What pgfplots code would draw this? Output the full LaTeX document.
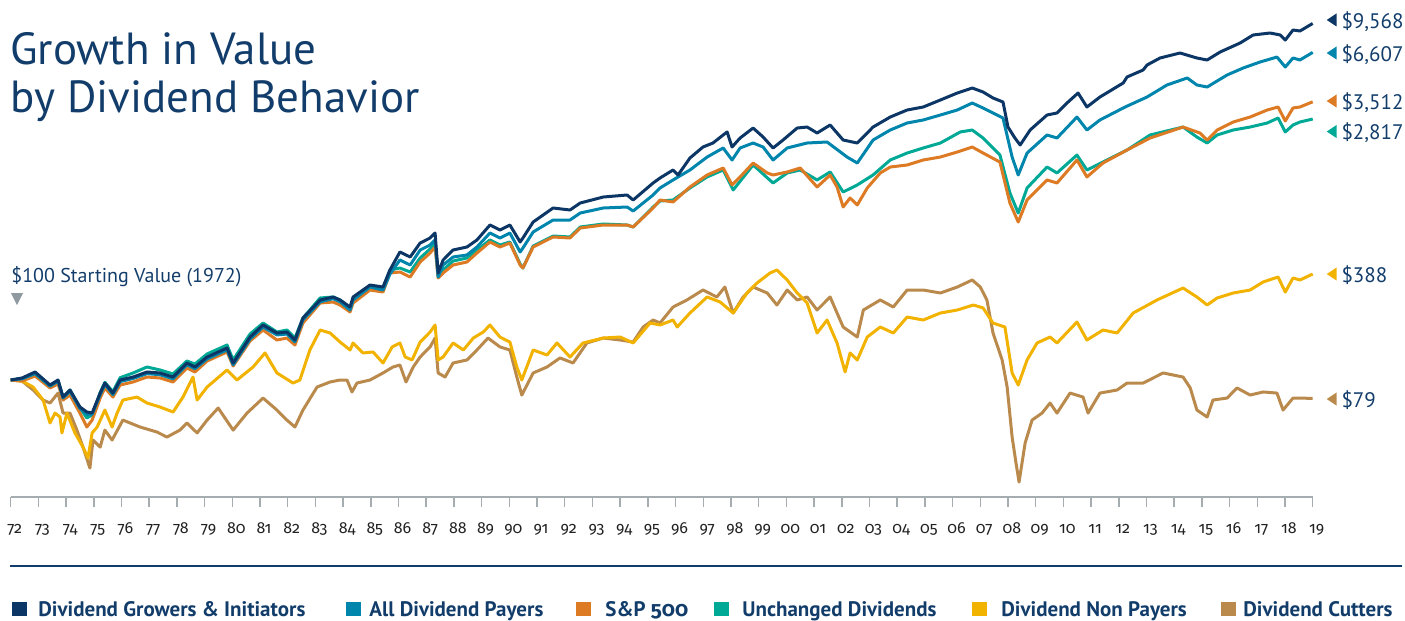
\documentclass[border=0pt]{standalone}
\usepackage{fontspec}
\setmainfont{PT Sans}
\newfontfamily\tickfont{Fira Sans}[Numbers=OldStyle]
\usepackage{pgfplots}
\usepackage{pgfplotstable}
\pgfplotsset{compat=1.18}
\definecolor{navyline}{HTML}{0C3665}
\definecolor{blueline}{HTML}{0085AD}
\definecolor{orangeline}{HTML}{DD7A24}
\definecolor{tealline}{HTML}{00A896}
\definecolor{yellowline}{HTML}{F2B200}
\definecolor{brownline}{HTML}{BA8A4D}
\definecolor{textnavy}{HTML}{123D6B}
\definecolor{axisgray}{HTML}{A5ADB1}
\definecolor{ticktext}{HTML}{222222}
\definecolor{markgray}{HTML}{8E9A9F}

\pgfplotstableread{
x y
1972.00 100
1972.41 102.6
1972.88 110.8
1973.42 93.8
1973.71 100
1973.89 80.4
1974.14 88.0
1974.50 70.8
1974.75 66.4
1974.94 65.6
1975.23 84.6
1975.40 96.2
1975.69 84.6
1975.95 100
1976.42 103.9
1976.92 110.8
1977.39 109.4
1977.86 103.9
1978.36 124.3
1978.65 118.1
1979.09 134.2
1979.81 150.6
1980.03 124.3
1980.64 173.3
1981.11 202.1
1981.61 182.4
1981.97 184.8
1982.26 166.8
1982.55 221.0
1983.17 278.3
1983.64 289.2
1983.89 278.3
1984.25 254.3
1984.36 289.2
1984.97 337.1
1985.44 328.6
1985.69 408.4
1986.05 514.2
1986.42 482.3
1986.78 576.8
1987.14 615.0
1987.32 655.7
1987.43 393.0
1987.61 464.2
1987.97 527.5
1988.47 548.1
1988.83 599.5
1989.30 726.3
1989.66 681.3
1990.02 726.3
1990.39 584.3
1990.49 615.0
1990.86 754.7
1991.58 902.7
1992.19 879.9
1992.56 962.3
1993.39 1039
1994.25 1066
1994.47 1000
1995.19 1243
1995.44 1325
1995.91 1468
1996.09 1377
1996.52 1711
1996.99 1970
1997.35 2073
1997.86 2388
1998.04 1970
1998.33 2210
1998.80 2511
1999.16 2238
1999.52 1945
1999.88 2154
2000.39 2511
2000.75 2543
2001.11 2356
2001.58 2610
2002.05 2154
2002.56 2073
2003.13 2543
2003.75 2890
2004.36 3162
2004.94 3286
2005.56 3594
2006.17 3930
2006.71 4190
2007.10 3981
2007.46 3687
2007.82 3503
2008.00 2543
2008.25 2210
2008.44 2021
2008.80 2448
2009.41 2966
2009.77 3043
2010.13 3458
2010.53 3930
2010.85 3286
2011.32 3734
2012.16 4467
2012.30 4826
2012.88 5275
2013.02 5623
2013.49 6150
2014.21 6557
2014.82 6150
2015.19 5995
2015.66 6643
2016.38 7452
2016.85 8254
2017.46 8468
2017.83 8254
2018.01 7743
2018.29 8799
2018.54 8686
2019.00 9568
}\growers

\pgfplotstableread{
x y
1972.00 100
1972.41 101.5
1972.88 108.5
1973.42 92.5
1973.71 98.5
1973.89 79.5
1974.14 86.5
1974.50 69.5
1974.75 64.5
1974.94 64.5
1975.23 83
1975.40 94.5
1975.69 83
1975.95 98
1976.42 102
1976.92 108.5
1977.39 107
1977.86 101.5
1978.36 121.5
1978.65 115.5
1979.09 131
1979.81 147
1980.03 121.5
1980.64 169
1981.11 197
1981.61 178
1981.97 180
1982.26 163
1982.55 216
1983.17 272
1983.64 283
1983.89 272
1984.25 244.8
1984.36 278.3
1984.97 328.6
1985.44 316.2
1985.69 388.0
1986.05 464.2
1986.42 435.4
1986.78 527.5
1987.14 562.3
1987.32 599.5
1987.43 373.4
1987.61 435.4
1987.97 482.3
1988.47 494.8
1988.83 548.1
1989.30 655.7
1989.66 615.0
1990.02 655.7
1990.39 514.2
1990.49 541.1
1990.86 664.1
1991.58 774.3
1992.19 774.3
1992.56 846.8
1993.39 902.7
1994.25 914.3
1994.47 868.6
1995.19 1066
1995.44 1166
1995.91 1292
1996.52 1468
1997.14 1733
1997.72 1945
1998.04 1668
1998.33 1945
1998.80 2073
1999.16 1970
1999.52 1668
2000.03 1945
2000.75 2073
2001.47 2100
2002.19 1733
2002.56 1605
2003.13 2154
2003.75 2448
2004.36 2678
2004.94 2783
2005.56 2966
2006.17 3162
2006.71 3458
2007.10 3244
2007.82 2855
2008.15 1733
2008.37 1377
2008.69 1824
2009.41 2297
2009.77 2210
2010.49 2890
2010.85 2448
2011.32 2783
2012.23 3286
2013.02 3734
2013.74 4354
2014.47 4763
2014.82 4354
2015.19 4243
2015.91 4948
2016.49 5411
2017.10 5843
2017.71 6225
2018.01 5481
2018.29 6150
2018.54 5995
2019.00 6607
}\payers

\pgfplotstableread{
x y
1972.00 100
1972.41 98.7
1972.88 105.2
1973.42 90.3
1973.71 95.0
1973.89 77.4
1974.14 82.5
1974.50 65.5
1974.75 54.8
1974.94 59.9
1975.23 79.4
1975.40 90.3
1975.69 80.4
1975.95 93.8
1976.42 97.5
1976.92 103.9
1977.39 102.6
1977.86 97.5
1978.36 116.6
1978.65 110.8
1979.09 127.5
1979.81 143.1
1980.03 119.6
1980.64 164.7
1981.11 189.6
1981.61 166.8
1981.97 171.1
1982.26 156.5
1982.55 207.3
1983.17 267.8
1983.64 271.2
1983.89 261.0
1984.25 238.8
1984.36 267.8
1984.97 316.2
1985.44 308.2
1985.69 393.0
1986.05 398.1
1986.42 373.4
1986.78 452.4
1987.14 507.6
1987.32 548.1
1987.43 368.7
1987.61 393.0
1987.97 435.4
1988.47 452.4
1988.83 507.6
1989.30 584.3
1989.66 548.1
1990.02 576.8
1990.39 435.4
1990.49 419.0
1990.86 548.1
1991.58 623.0
1992.19 615.0
1992.56 699.0
1993.39 726.3
1994.25 726.3
1994.47 708.0
1995.19 902.7
1995.44 1000
1995.91 974.7
1996.52 1181
1997.14 1377
1997.72 1506
1998.04 1212
1998.33 1343
1998.80 1605
1999.31 1413
1999.52 1377
2000.03 1431
2000.50 1506
2001.11 1181
2001.58 1377
2001.83 1181
2002.05 914.3
2002.30 1026
2002.56 938
2002.92 1166
2003.39 1413
2003.75 1525
2004.36 1565
2004.94 1668
2005.56 1733
2006.17 1848
2006.71 1970
2007.10 1824
2007.71 1625
2008.07 962
2008.37 754.7
2008.69 1000
2009.41 1292
2009.77 1243
2010.49 1668
2010.85 1343
2011.43 1605
2012.30 1896
2013.13 2210
2014.32 2543
2014.93 2356
2015.19 2154
2015.55 2448
2016.13 2712
2016.74 2890
2017.36 3162
2017.75 3286
2018.01 2748
2018.29 3244
2018.54 3286
2019.00 3512
}\sandp

\pgfplotstableread{
x y
1972.00 100
1972.41 102
1972.88 109
1973.42 93
1973.71 99
1973.89 80
1974.14 88
1974.50 70
1974.75 61.5
1974.94 64
1975.23 85
1975.40 97
1975.69 86
1975.95 103
1976.42 109.4
1976.92 118.1
1977.39 113.7
1977.86 108
1978.36 127.5
1978.65 122.7
1979.09 139.5
1979.81 156.5
1980.03 129.2
1980.64 180.1
1981.11 207.3
1981.61 184.8
1981.97 189.6
1982.26 171.1
1982.55 221.0
1983.17 285.5
1983.64 289.2
1983.89 278.3
1984.25 251.4
1984.36 281.9
1984.97 332.8
1985.44 324.4
1985.69 408.4
1986.05 419.0
1986.42 398.1
1986.78 476.2
1987.14 534.3
1987.32 576.8
1987.43 378.2
1987.61 408.4
1987.97 458.2
1988.47 476.2
1988.83 527.5
1989.30 599.5
1989.66 562.3
1990.02 584.3
1990.39 441.0
1990.49 419.0
1990.86 555.1
1991.58 630.9
1992.19 623.0
1992.56 708.0
1993.39 735.7
1994.25 726.3
1994.47 708.0
1995.19 914.3
1995.44 987.2
1995.91 1000
1996.52 1166
1997.14 1343
1997.72 1468
1998.08 1137
1998.80 1565
1999.52 1243
2000.03 1413
2000.50 1468
2001.11 1292
2001.58 1431
2002.05 1108
2002.56 1212
2003.13 1377
2003.75 1668
2004.36 1824
2004.94 1945
2005.56 2073
2006.28 2388
2006.71 2448
2007.10 2210
2007.71 1778
2008.07 1094
2008.37 846.8
2008.69 1166
2009.41 1525
2009.77 1413
2010.49 1778
2010.85 1468
2011.43 1625
2012.30 1896
2013.13 2297
2014.32 2543
2014.82 2238
2015.19 2073
2015.55 2297
2016.13 2448
2016.74 2543
2017.36 2678
2017.75 2855
2018.01 2388
2018.29 2610
2018.54 2712
2019.00 2817
}\unchanged

\pgfplotstableread{
x y
1972.00 100
1972.41 98.7
1972.81 91.4
1973.17 77.4
1973.42 57.7
1973.60 65.5
1973.78 62.3
1973.85 50.8
1974.03 65.5
1974.32 50.8
1974.61 42.4
1974.79 36.8
1974.94 50.8
1975.12 54.8
1975.40 68.1
1975.66 54.8
1975.84 65.5
1976.05 77.4
1976.56 80.4
1976.92 74.5
1977.39 70.8
1977.86 66.4
1978.22 80.4
1978.58 103.9
1978.73 77.4
1979.09 91.4
1979.81 113.7
1980.17 100
1980.75 118.1
1981.18 141.3
1981.61 109.4
1982.19 96.2
1982.44 100
1982.80 146.8
1983.17 189.6
1983.53 182.4
1983.89 162.5
1984.25 146.8
1984.36 160.6
1984.72 141.3
1985.08 143.1
1985.44 124.3
1985.77 152.7
1986.05 160.6
1986.24 134.2
1986.49 129.2
1986.78 162.5
1987.14 184.8
1987.32 202.1
1987.43 129.2
1987.61 134.2
1987.97 160.6
1988.34 146.8
1988.70 171.1
1989.06 184.8
1989.30 202.1
1989.66 173.3
1990.02 162.5
1990.27 118.1
1990.45 100
1990.86 146.8
1991.36 137.7
1991.72 160.6
1992.19 134.2
1992.66 160.6
1993.39 171.1
1994.00 173.3
1994.47 160.6
1995.08 207.3
1995.44 202.1
1995.91 215.4
1996.06 197.0
1996.52 235.6
1997.14 289.2
1997.61 271.2
1998.08 235.6
1998.58 304.3
1998.94 345.8
1999.41 393.0
1999.66 408.4
2000.03 359.4
2000.39 304.3
2000.75 267.8
2001.11 182.4
2001.47 215.4
2001.83 160.6
2002.12 110.8
2002.30 141.3
2002.56 129.2
2002.92 173.3
2003.39 197.0
2003.86 182.4
2004.36 223.8
2004.94 215.4
2005.56 235.6
2006.17 244.8
2006.75 261.0
2007.10 251.4
2007.46 207.3
2007.89 197.0
2008.15 109.4
2008.37 93.8
2008.69 129.2
2009.05 160.6
2009.52 173.3
2009.77 160.6
2010.49 210.0
2010.85 166.8
2011.43 189.6
2011.94 182.4
2012.52 235.6
2013.38 278.3
2014.32 324.4
2014.82 289.2
2015.19 261.0
2015.55 285.5
2016.13 304.3
2016.74 316.2
2017.21 350.3
2017.75 373.4
2018.01 308.2
2018.29 368.7
2018.54 359.4
2019.00 388
}\nonpayers

\pgfplotstableread{
x y
1972.00 100
1972.41 98.7
1972.81 88.0
1973.17 77.4
1973.42 74.5
1973.71 84.6
1973.89 65.5
1974.14 65.5
1974.39 52.7
1974.61 42.4
1974.86 32.4
1974.97 46.4
1975.23 42.4
1975.40 52.7
1975.66 46.4
1976.05 59.9
1976.67 54.8
1977.28 51.4
1977.64 48.2
1978.11 52.7
1978.36 57.7
1978.73 50.8
1979.09 59.9
1979.49 69.9
1980.03 52.7
1980.53 65.5
1981.11 79.4
1981.61 68.1
1981.97 59.9
1982.26 54.8
1982.55 68.1
1983.06 91.4
1983.53 97.5
1983.89 100
1984.14 100
1984.32 85.8
1984.50 96.2
1984.97 100
1985.44 109.4
1985.80 118.1
1986.05 121.2
1986.27 97.5
1986.53 118.1
1986.78 134.2
1987.14 152.7
1987.32 171.1
1987.43 109.4
1987.68 103.9
1987.97 124.3
1988.47 129.2
1988.83 146.8
1989.23 171.1
1989.66 152.7
1990.02 146.8
1990.27 103.9
1990.45 82.5
1990.86 109.4
1991.36 118.1
1991.83 132.6
1992.30 124.3
1992.80 160.6
1993.39 171.1
1994.00 166.8
1994.47 162.5
1994.83 197.0
1995.19 215.4
1995.44 207.3
1995.91 254.3
1996.41 278.3
1996.99 316.2
1997.49 289.2
1997.78 328.6
1998.08 235.6
1998.44 289.2
1998.80 328.6
1999.31 304.3
1999.66 261.0
2000.03 316.2
2000.39 278.3
2000.75 289.2
2001.11 244.8
2001.58 289.2
2002.05 197.0
2002.56 173.3
2002.78 244.8
2003.39 278.3
2003.86 254.3
2004.36 316.2
2004.94 316.2
2005.56 304.3
2006.17 328.6
2006.71 359.4
2007.00 328.6
2007.24 278.3
2007.46 182.4
2007.79 129.2
2007.97 91.4
2008.15 48.2
2008.29 34.6
2008.40 27.1
2008.62 44.7
2008.87 59.9
2009.23 65.5
2009.52 74.5
2009.77 65.5
2010.24 84.6
2010.71 80.4
2010.89 65.5
2011.32 84.6
2011.94 88.0
2012.30 96.2
2012.88 96.2
2013.60 109.4
2014.32 103.9
2014.58 90.3
2014.82 68.1
2015.19 62.3
2015.40 77.4
2015.91 79.4
2016.27 90.3
2016.74 82.5
2017.21 85.8
2017.71 84.6
2017.93 68.1
2018.29 79.4
2018.54 79.4
2019.00 79
}\cutters

\begin{document}
\begin{tikzpicture}
\begin{scope}[x=0.5pt,y=0.5pt]
\path[use as bounding box] (0,0) rectangle (1405,620);
% title
\node[anchor=base west, inner sep=0, text=textnavy, font=\fontsize{22.5}{27}\selectfont] at (10,555) {Growth in Value};
\node[anchor=base west, inner sep=0, text=textnavy, font=\fontsize{22.5}{27}\selectfont] at (10,507) {by Dividend Behavior};
% starting value note
\node[anchor=base west, inner sep=0, text=textnavy, font=\fontsize{10}{12}\selectfont] at (11,337) {\$100 Starting Value (1972)};
\fill[markgray] (11,327) -- (23,327) -- (17,315) -- cycle;
% separator
\draw[textnavy, line width=1pt] (10,54) -- (1402,54);
\end{scope}

\begin{axis}[
  at={(5.35pt,61.5pt)}, anchor=south west,
  width=651pt, height=241pt, scale only axis,
  xmin=1972, xmax=2019,
  ymode=log, ymin=22.39, ymax=10661,
  axis x line*=bottom, axis y line=none,
  x axis line style={draw=axisgray, line width=0.75pt},
  xtick={1972,1973,...,2019},
  xticklabels={72,73,74,75,76,77,78,79,80,81,82,83,84,85,86,87,88,89,90,91,92,93,94,95,96,97,98,99,00,01,02,03,04,05,06,07,08,09,10,11,12,13,14,15,16,17,18,19},
  tick align=outside, major tick length=5pt,
  xtick style={draw=axisgray, line width=0.75pt},
  xticklabel style={font=\tickfont\fontsize{8}{9}\selectfont, text=ticktext, anchor=base, yshift=-13.5pt, xshift=2pt},
  ytick=\empty,
  clip=false,
  every axis plot/.append style={line width=1.5pt, line join=round, mark=none},
]
\addplot[brownline] table {\cutters};
\addplot[yellowline] table {\nonpayers};
\addplot[tealline] table {\unchanged};
\addplot[orangeline] table {\sandp};
\addplot[blueline] table {\payers};
\addplot[navyline] table {\growers};

% end labels
\fill[navyline] ([xshift=7pt,yshift=1.75pt]axis cs:2019,9568) -- ++(5pt,3.3pt) -- ++(0pt,-6.6pt) -- cycle;
\node[anchor=base west, inner sep=0pt, text=textnavy, font=\fontsize{10.5}{12}\selectfont] at ([xshift=14.2pt,yshift=-2.45pt]axis cs:2019,9568) {\$9,568};
\fill[blueline] ([xshift=7pt,yshift=-0.3pt]axis cs:2019,6607) -- ++(5pt,3.3pt) -- ++(0pt,-6.6pt) -- cycle;
\node[anchor=base west, inner sep=0pt, text=textnavy, font=\fontsize{10.5}{12}\selectfont] at ([xshift=14.2pt,yshift=-4.5pt]axis cs:2019,6607) {\$6,607};
\fill[orangeline] ([xshift=7pt,yshift=0.4pt]axis cs:2019,3512) -- ++(5pt,3.3pt) -- ++(0pt,-6.6pt) -- cycle;
\node[anchor=base west, inner sep=0pt, text=textnavy, font=\fontsize{10.5}{12}\selectfont] at ([xshift=14.2pt,yshift=-3.8pt]axis cs:2019,3512) {\$3,512};
\fill[tealline] ([xshift=7pt,yshift=-6.25pt]axis cs:2019,2817) -- ++(5pt,3.3pt) -- ++(0pt,-6.6pt) -- cycle;
\node[anchor=base west, inner sep=0pt, text=textnavy, font=\fontsize{10.5}{12}\selectfont] at ([xshift=14.2pt,yshift=-10.45pt]axis cs:2019,2817) {\$2,817};
\fill[yellowline] ([xshift=7pt,yshift=0pt]axis cs:2019,388) -- ++(5pt,3.3pt) -- ++(0pt,-6.6pt) -- cycle;
\node[anchor=base west, inner sep=0pt, text=textnavy, font=\fontsize{10.5}{12}\selectfont] at ([xshift=14.2pt,yshift=-4.2pt]axis cs:2019,388) {\$388};
\fill[brownline] ([xshift=7pt,yshift=-0.3pt]axis cs:2019,79) -- ++(5pt,3.3pt) -- ++(0pt,-6.6pt) -- cycle;
\node[anchor=base west, inner sep=0pt, text=textnavy, font=\fontsize{10.5}{12}\selectfont] at ([xshift=14.2pt,yshift=-4.5pt]axis cs:2019,79) {\$79};
\end{axis}

\begin{scope}[x=0.5pt,y=0.5pt, every node/.style={anchor=base west, inner sep=0, text=textnavy, font=\bfseries\fontsize{10.5}{12}\selectfont}]
\fill[navyline] (12,4) rectangle (27,18);
\node at (38,4) {Dividend Growers \& Initiators};
\fill[blueline] (346,4) rectangle (361,18);
\node at (369,4) {All Dividend Payers};
\fill[orangeline] (576,4) rectangle (591,18);
\node at (605,4) {S\&P {\tickfont 500}};
\fill[tealline] (714,4) rectangle (729,18);
\node at (742,4) {Unchanged Dividends};
\fill[yellowline] (972,4) rectangle (987,18);
\node at (1001,4) {Dividend Non Payers};
\fill[brownline] (1221,4) rectangle (1236,18);
\node at (1243,4) {Dividend Cutters};
\end{scope}
\end{tikzpicture}
\end{document}
